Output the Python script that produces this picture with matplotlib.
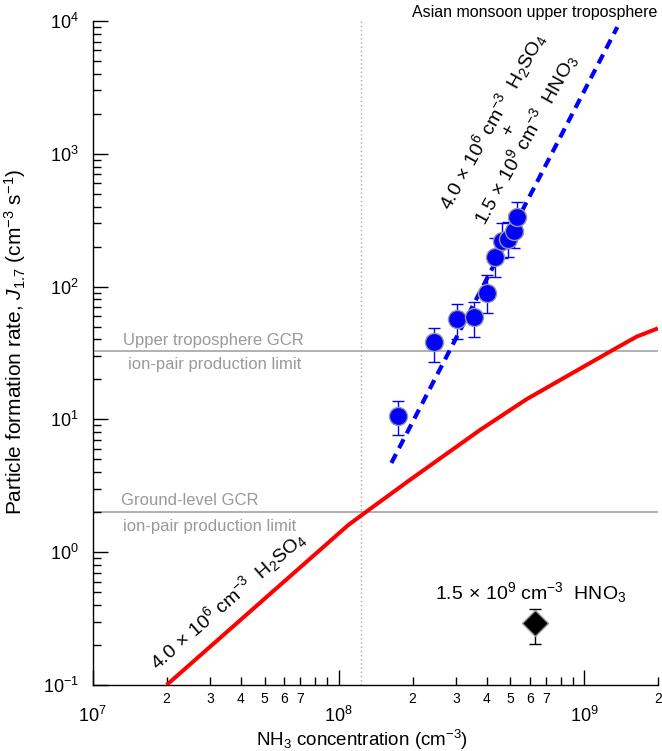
import numpy as np
import matplotlib
matplotlib.use("Agg")
import matplotlib.pyplot as plt
from matplotlib.ticker import LogLocator, FuncFormatter, NullFormatter

plt.rcParams['font.family'] = ['Liberation Sans', 'DejaVu Sans']
plt.rcParams['mathtext.fontset'] = 'custom'
plt.rcParams['mathtext.rm'] = 'Liberation Sans'
plt.rcParams['mathtext.it'] = 'Liberation Sans:italic'
plt.rcParams['mathtext.bf'] = 'Liberation Sans:bold'

# CLOUD measurements, Asian monsoon upper troposphere conditions
nh3_pts = [1.75e8, 2.44e8, 3.04e8, 3.56e8, 4.0e8, 4.34e8, 4.60e8, 4.90e8, 5.18e8, 5.30e8]
j_pts = [10.7, 38, 57, 59, 90, 167, 222, 227, 264, 336]
j_lo = [7.6, 27, 40, 41.5, 63.6, 119, 165, 168, 195, 250]
j_hi = [13.8, 49, 74, 76.6, 122, 232, 300, 305, 355, 435]

# fit through H2SO4 + HNO3 + NH3 points
nh3_fit = [1.64e8, 1.36e9]
j_fit = [4.7, 9000]

# H2SO4 + NH3 only
nh3_red = [2.0e7, 1.095e8, 1.26e8, 1.95e8, 3.76e8, 5.82e8, 1.27e9, 1.63e9, 1.99e9]
j_red = [0.1, 1.60, 1.94, 3.50, 8.32, 14.2, 32.4, 42, 48.5]

# HNO3 + NH3 only
nh3_dia = [6.28e8]
j_dia = [0.292]
j_dia_lo = [0.204]
j_dia_hi = [0.371]

gcr_upper = 33
gcr_ground = 2
nh3_monsoon = 1.23e8

fig = plt.figure(figsize=(6.62, 7.51), dpi=100)
ax = fig.add_axes([0.1399, 0.0879, 0.8548, 0.8841])

ax.set_xscale('log')
ax.set_yscale('log')
ax.set_xlim(1e7, 2e9)
ax.set_ylim(0.1, 1e4)

ax.axhline(gcr_upper, color='#aaaaaa', lw=1.3, zorder=1)
ax.axhline(gcr_ground, color='#aaaaaa', lw=1.3, zorder=1)
ax.axvline(nh3_monsoon, color='#aaaaaa', lw=1.0, ls=(0, (1, 2)), zorder=1)

ax.plot(nh3_red, j_red, color='#ff0000', lw=2.9, solid_capstyle='butt', zorder=3)
ax.plot(nh3_fit, j_fit, color='#0000ff', lw=3.0, ls=(0, (2.4, 1.6)), zorder=3)

jp = np.array(j_pts)
yerr = [jp - np.array(j_lo), np.array(j_hi) - jp]
ax.errorbar(nh3_pts, j_pts, yerr=yerr, fmt='o', ms=13, mfc='#0000ff', mec='#999999',
            mew=1.0, ecolor='#0000ff', elinewidth=1.0, capsize=4.5, capthick=1.0, zorder=4)

jd = np.array(j_dia)
ax.errorbar(nh3_dia, j_dia, yerr=[jd - np.array(j_dia_lo), np.array(j_dia_hi) - jd], fmt='D',
            ms=13, mfc='black', mec='#999999', mew=1.0, ecolor='black', elinewidth=1.0,
            capsize=4.5, capthick=1.0, zorder=4)

# texts
gray = '#999999'
ax.text(1.33e7, 39.6, 'Upper troposphere GCR', color=gray, fontsize=12, ha='left', va='center')
ax.text(1.39e7, 25.7, 'ion-pair production limit', color=gray, fontsize=12, ha='left', va='center')
ax.text(1.31e7, 2.47, 'Ground-level GCR', color=gray, fontsize=12, ha='left', va='center')
ax.text(1.33e7, 1.55, 'ion-pair production limit', color=gray, fontsize=12, ha='left', va='center')

ax.text(3.55e7, 0.436, r'4.0$\,\times\,$10$^{6}$ cm$^{-3}$  H$_{2}$SO$_{4}$', fontsize=14,
        rotation=41, ha='center', va='center')
ax.text(4.93e8, 1510, '4.0$\\,\\times\\,$10$^{6}$ cm$^{-3}$  H$_{2}$SO$_{4}$\n+\n'
        '1.5$\\,\\times\\,$10$^{9}$ cm$^{-3}$  HNO$_{3}$', fontsize=14, rotation=61,
        ha='center', va='center', multialignment='center', linespacing=0.9)
ax.text(6.05e8, 0.50, r'1.5$\,\times\,$10$^{9}$ cm$^{-3}$  HNO$_{3}$', fontsize=14,
        ha='center', va='center')

fig.text(0.993, 0.984, 'Asian monsoon upper troposphere', fontsize=11.5, ha='right', va='center')

# axes styling
for s in ['top', 'right']:
    ax.spines[s].set_visible(False)
ax.spines['left'].set_linewidth(1.0)
ax.spines['bottom'].set_linewidth(1.0)

ax.xaxis.set_major_locator(LogLocator(base=10, numticks=10))
ax.xaxis.set_minor_locator(LogLocator(base=10, subs=np.arange(2, 10), numticks=20))
ax.yaxis.set_major_locator(LogLocator(base=10, numticks=10))
ax.yaxis.set_minor_locator(LogLocator(base=10, subs=np.arange(2, 10), numticks=20))


def minor_lab(v, pos):
    m = v / 10 ** np.floor(np.log10(v) + 1e-9)
    k = int(round(m))
    return str(k) if 2 <= k <= 7 else ''


ax.xaxis.set_minor_formatter(FuncFormatter(minor_lab))
ax.yaxis.set_minor_formatter(NullFormatter())

ax.tick_params(axis='both', which='major', direction='in', length=11, width=1.0, labelsize=13)
ax.tick_params(axis='both', which='minor', direction='in', length=6, width=1.0)
ax.tick_params(axis='x', which='major', pad=15)
ax.tick_params(axis='x', which='minor', pad=5, labelsize=10)
ax.tick_params(axis='y', which='major', pad=10)

ax.set_xlabel(r'NH$_{3}$ concentration (cm$^{-3}$)', fontsize=13.5)
ax.set_ylabel(r'Particle formation rate, $J_{1.7}$ (cm$^{-3}$ s$^{-1}$)', fontsize=15)
ax.xaxis.set_label_coords(0.476, -0.064)
ax.yaxis.set_label_coords(-0.114, 0.517)

fig.savefig('out.png', dpi=100)
